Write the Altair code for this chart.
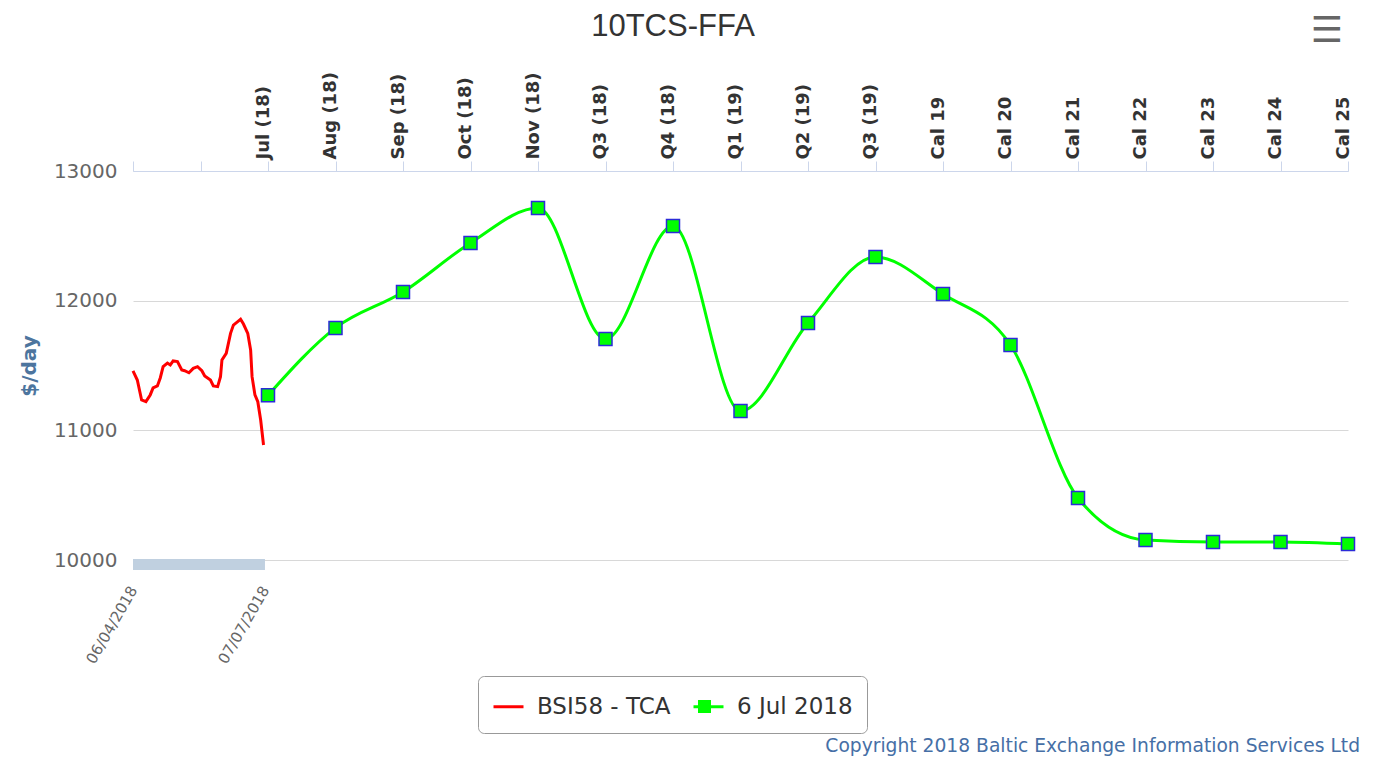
import altair as alt
import pandas as pd

# ---------------- data ----------------
TITLE = "10TCS-FFA"
COPYRIGHT = "Copyright 2018 Baltic Exchange Information Services Ltd"
MENU_ICON = "\u2630"
RED_NAME = "BSI58 - TCA"
GREEN_NAME = "6 Jul 2018"

spot_dates = ["2018-04-06", "2018-04-09", "2018-04-12", "2018-04-15", "2018-04-18",
              "2018-04-20", "2018-04-23", "2018-04-25", "2018-04-27", "2018-04-30",
              "2018-05-02", "2018-05-04", "2018-05-07", "2018-05-10", "2018-05-12",
              "2018-05-15", "2018-05-18", "2018-05-21", "2018-05-24", "2018-05-26",
              "2018-05-30", "2018-06-01", "2018-06-04", "2018-06-06", "2018-06-07",
              "2018-06-10", "2018-06-13", "2018-06-15", "2018-06-18", "2018-06-20",
              "2018-06-22", "2018-06-25", "2018-06-27", "2018-06-28", "2018-06-30",
              "2018-07-02", "2018-07-04", "2018-07-06"]
spot_values = [11458, 11388, 11234, 11221, 11273, 11327, 11342, 11404, 11491, 11519,
               11504, 11535, 11530, 11465, 11460, 11444, 11478, 11491, 11460, 11419,
               11388, 11342, 11337, 11414, 11542, 11594, 11748, 11812, 11838, 11856,
               11820, 11748, 11620, 11414, 11273, 11221, 11080, 10887]

contracts = ["Jul (18)", "Aug (18)", "Sep (18)", "Oct (18)", "Nov (18)", "Q3 (18)",
             "Q4 (18)", "Q1 (19)", "Q2 (19)", "Q3 (19)", "Cal 19", "Cal 20",
             "Cal 21", "Cal 22", "Cal 23", "Cal 24", "Cal 25"]
ffa_values = [11270, 11790, 12067, 12445, 12715, 11704, 12576, 11149, 11828, 12337,
              12051, 11658, 10478, 10154, 10139, 10139, 10123]

empty_slots = ["_0", "_1"]          # two unlabeled slots before the first contract
top_axis_slots = empty_slots + contracts
y_ticks = [10000, 11000, 12000, 13000]
date_ticks = ["2018-04-06", "2018-07-07"]
date_domain = ["2018-04-06", "2020-07-31"]

# ---------------- layout ----------------
W, H = 1215, 389
FONT = "DejaVu Sans"


def dt(s):
    y, m, d = (int(p) for p in s.split("-"))
    return alt.DateTime(year=y, month=m, date=d, utc=True)


spot = pd.DataFrame({"date": spot_dates, "value": spot_values, "series": RED_NAME})
ffa = pd.DataFrame({"contract": contracts, "value": ffa_values,
                    "series": GREEN_NAME, "marker": GREEN_NAME})
span = pd.DataFrame({"start": [date_ticks[0]], "end": [date_ticks[1]]})

color_scale = alt.Scale(domain=[RED_NAME, GREEN_NAME], range=["#ff0000", "#00ff00"])
legend_a = alt.Legend(
    orient="none", legendX=345, legendY=505, direction="horizontal", title=None,
    labelFont=FONT, labelFontSize=23, labelColor="#333333", labelOffset=12,
    columnPadding=16, symbolSize=900, symbolStrokeWidth=3, symbolType="stroke",
    strokeColor="#999999", cornerRadius=6, padding=14,
)
legend_b = alt.Legend(
    orient="none", legendX=560, legendY=524, direction="horizontal", title=None,
    labelFont=FONT, labelFontSize=23, labelExpr="''", symbolSize=169,
    symbolStrokeWidth=1.5, symbolFillColor="#00ff00", symbolStrokeColor="#2b2bd8",
    padding=0,
)

y_scale = alt.Scale(domain=[10000, 13000], nice=False, zero=False)
y_axis = alt.Axis(
    orient="left", values=y_ticks, format="d", grid=True, gridColor="#d8d8d8",
    domain=False, ticks=False,
    labelFont=FONT, labelFontSize=20, labelColor="#666666", labelPadding=16,
    title="$/day", titleFont=FONT, titleFontSize=20, titleFontWeight="bold",
    titleColor="#4d759e", titlePadding=14,
)

x_time_scale = alt.Scale(type="utc", domain=[dt(date_domain[0]), dt(date_domain[1])])
x_time_axis = alt.Axis(
    orient="bottom", values=[dt(s) for s in date_ticks], format="%d/%m/%Y",
    labelAngle=-60, labelFont=FONT, labelFontSize=15, labelColor="#666666",
    labelPadding=27, ticks=False, domain=False, grid=False, title=None,
)

top_axis = alt.Axis(
    orient="top", labelAngle=-90, labelFont=FONT, labelFontSize=18,
    labelFontWeight="bold", labelColor="#333333", labelPadding=2, labelOffset=-5,
    labelOverlap=False, ticks=True, tickSize=10, tickColor="#ccd6eb",
    domain=True, domainColor="#ccd6eb",
    grid=False, title=None, zindex=1,
    labelExpr="indexof(" + str(empty_slots).replace("'", '"') + ", datum.value) >= 0 ? '' : datum.label",
)
x_cat = alt.X("contract:N", sort=None, axis=top_axis,
              scale=alt.Scale(type="point", domain=top_axis_slots, padding=0))

red_line = alt.Chart(spot).mark_line(strokeWidth=3).encode(
    x=alt.X("date:T", scale=x_time_scale, axis=x_time_axis),
    y=alt.Y("value:Q", scale=y_scale, axis=y_axis),
    color=alt.Color("series:N", scale=color_scale, legend=legend_a),
)
span_bar = alt.Chart(span).mark_rect(color="#c0d0e0").encode(
    x=alt.X("start:T", scale=x_time_scale, axis=x_time_axis),
    x2="end:T",
    y=alt.value(H - 1),
    y2=alt.value(H + 10),
)

green_line = alt.Chart(ffa).mark_line(strokeWidth=3, interpolate="monotone").encode(
    x=x_cat,
    y=alt.Y("value:Q", scale=y_scale, axis=y_axis),
    color=alt.Color("series:N", scale=color_scale, legend=legend_a),
)
green_pts = alt.Chart(ffa).mark_point(
    filled=True, fill="#00ff00", stroke="#2b2bd8", strokeWidth=1.5, size=169, opacity=1
).encode(
    x=x_cat,
    y=alt.Y("value:Q", scale=y_scale, axis=y_axis),
    shape=alt.Shape("marker:N", scale=alt.Scale(domain=[GREEN_NAME], range=["square"]),
                    legend=legend_b),
)

title_mark = alt.Chart(pd.DataFrame({"t": [TITLE]})).mark_text(
    font="Liberation Sans", fontSize=31, color="#333333", align="center", baseline="middle"
).encode(text="t:N", x=alt.value(540), y=alt.value(-144))

menu_mark = alt.Chart(pd.DataFrame({"t": [MENU_ICON]})).mark_text(
    font=FONT, fontSize=36, fontWeight="bold", color="#666666", align="center",
    baseline="middle"
).encode(text="t:N", x=alt.value(1194), y=alt.value(-140))

credit_mark = alt.Chart(pd.DataFrame({"t": [COPYRIGHT]})).mark_text(
    font=FONT, fontSize=18.7, color="#466fa6", align="right", baseline="middle"
).encode(text="t:N", x=alt.value(1227), y=alt.value(575))

chart = alt.layer(
    alt.layer(span_bar, red_line),
    alt.layer(green_line, green_pts),
    title_mark, menu_mark, credit_mark,
).resolve_scale(x="independent", y="shared").resolve_axis(y="shared").properties(
    width=W, height=H,
    view=alt.ViewBackground(stroke="transparent", strokeWidth=0),
    autosize=alt.AutoSizeParams(type="none"),
    padding={"left": 125, "top": 163, "right": 17, "bottom": 198},
).configure_view(stroke="transparent", strokeWidth=0).configure_axis(
    domain=False, grid=False, ticks=False
).configure(font=FONT)

chart.save("out.html", embed_options={"renderer": "svg", "actions": False})
